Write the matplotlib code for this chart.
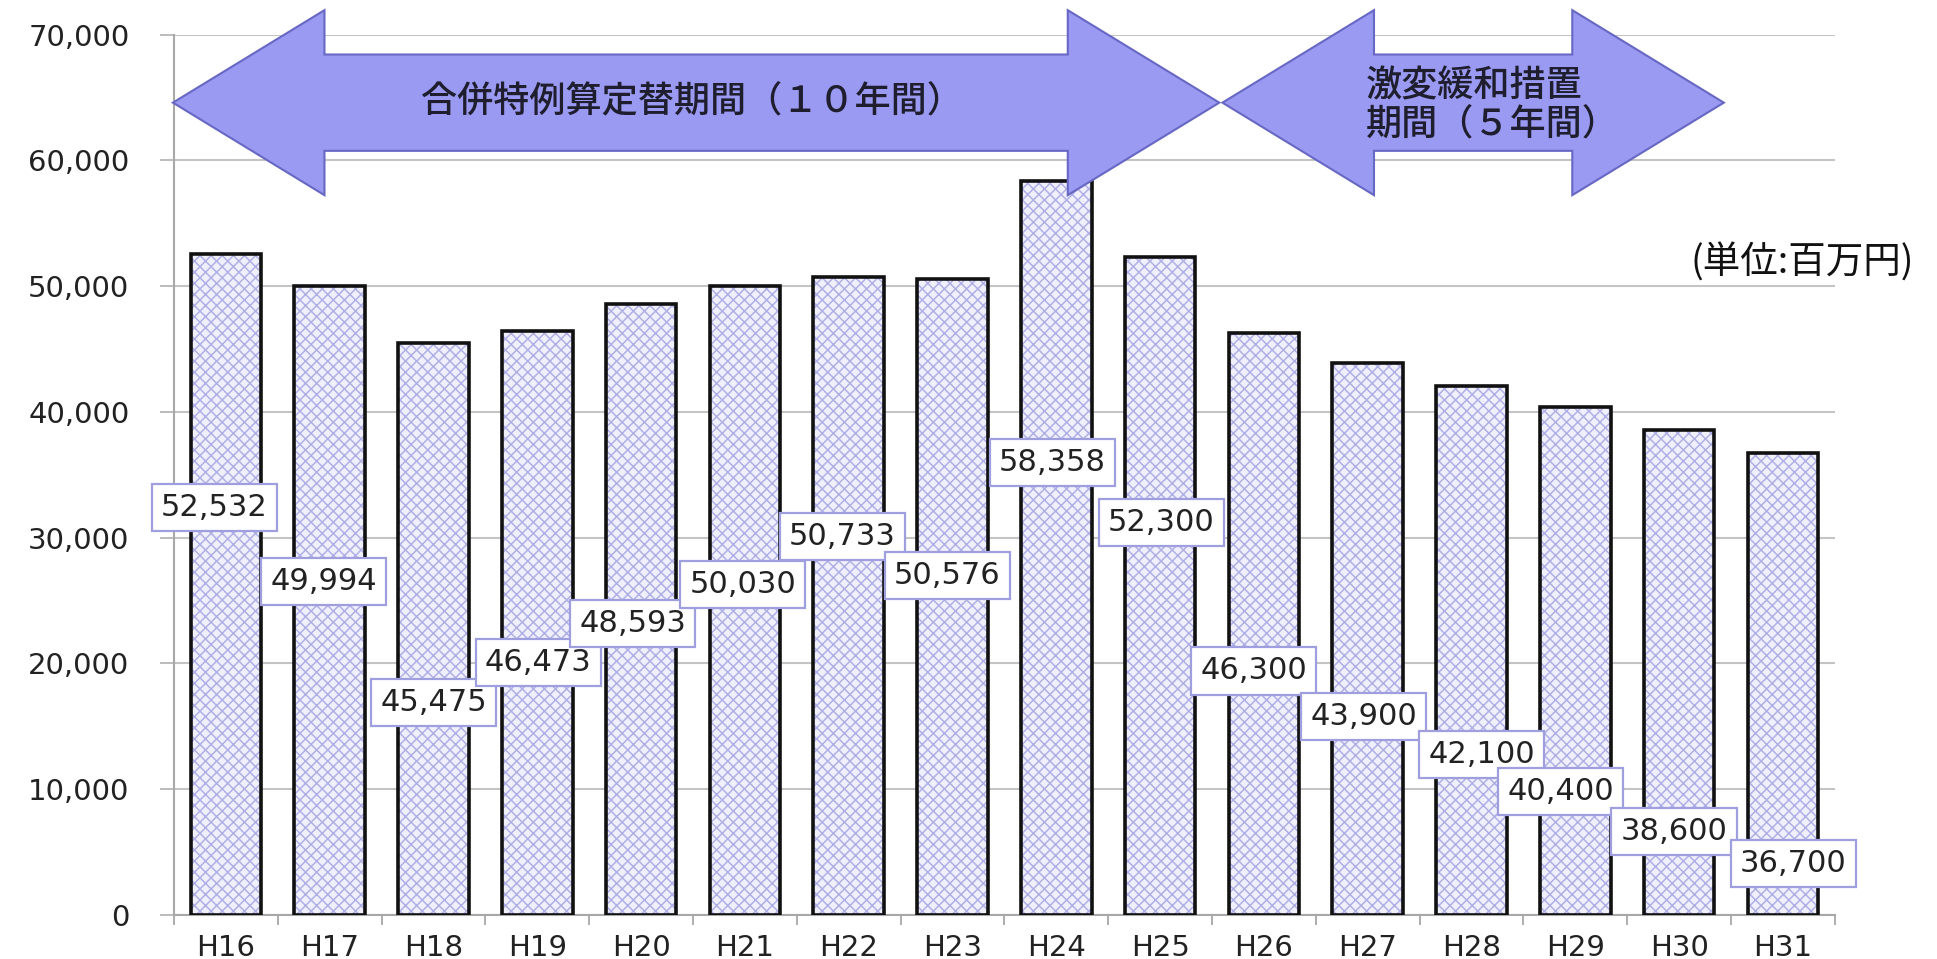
import matplotlib
matplotlib.use('Agg')
import matplotlib.pyplot as plt
from matplotlib.patches import Polygon
from matplotlib.ticker import FuncFormatter, FixedLocator

# Data
years = ['H16', 'H17', 'H18', 'H19', 'H20', 'H21', 'H22', 'H23',
         'H24', 'H25', 'H26', 'H27', 'H28', 'H29', 'H30', 'H31']
values = [52532, 49994, 45475, 46473, 48593, 50030, 50733, 50576,
          58358, 52300, 46300, 43900, 42100, 40400, 38600, 36700]

# where the value boxes sit (they are not at the bar tops in the original)
label_y = [32400, 26500, 16900, 20100, 23200, 26300, 30100, 27000,
           36000, 31200, 19400, 15800, 12750, 9800, 6650, 4100]
label_dx = [-0.11, -0.06, 0, 0.01, -0.08, -0.02, -0.06, -0.05,
            -0.04, 0.01, -0.1, -0.04, 0.1, -0.14, -0.05, 0.1]

period1 = '合併特例算定替期間（１０年間）'
period2 = '激変緩和措置\n期間（５年間）'
unit = '(単位:百万円)'

CJK = ['Noto Sans CJK JP', 'DejaVu Sans']


def double_arrow(x0, x1, yc, head_len=1.46, shaft=3830, head=7355):
    pts = [(x0, yc), (x0 + head_len, yc + head), (x0 + head_len, yc + shaft),
           (x1 - head_len, yc + shaft), (x1 - head_len, yc + head), (x1, yc),
           (x1 - head_len, yc - head), (x1 - head_len, yc - shaft),
           (x0 + head_len, yc - shaft), (x0 + head_len, yc - head)]
    return Polygon(pts, closed=True, facecolor='#9a9af2', edgecolor='#6767c4',
                   linewidth=1.5, zorder=5, clip_on=False)


fig = plt.figure(figsize=(19.37, 9.59), dpi=100)
ax = fig.add_axes([0.0898, 0.0459, 0.8575, 0.918])

x = list(range(len(years)))
plt.rcParams['hatch.linewidth'] = 1.1
ax.bar(x, values, width=0.68, color='#f0f0fd', edgecolor='#b0b0e6',
       hatch='xxx', linewidth=0, zorder=2)
ax.bar(x, values, width=0.68, fill=False, edgecolor='#111111',
       linewidth=2.6, zorder=3)

for i, v in enumerate(values):
    ax.text(i + label_dx[i], label_y[i], f'{v:,}', ha='center', va='center',
            fontsize=22, color='#222222', zorder=6,
            bbox=dict(boxstyle='square,pad=0.3', facecolor='white',
                      edgecolor='#9f9fe0', linewidth=1.6))

ax.set_xlim(-0.5, len(years) - 0.5)
ax.set_ylim(0, 70000)
ax.set_yticks(range(0, 70001, 10000))
ax.yaxis.set_major_formatter(FuncFormatter(lambda v, p: f'{v:,.0f}'))
ax.set_xticks(x)
ax.set_xticklabels(years)
ax.xaxis.set_minor_locator(FixedLocator([i - 0.5 for i in range(len(years) + 1)]))
ax.tick_params(axis='x', which='major', length=0, pad=14, labelsize=21,
               labelcolor='#222222')
ax.tick_params(axis='x', which='minor', length=7, width=1.2, color='#a0a0a0')
ax.tick_params(axis='y', length=10, width=1.2, color='#b0b0b0', pad=22,
               labelsize=21, labelcolor='#222222')

ax.grid(axis='y', color='#c4c4c4', linewidth=1.5, zorder=0)
ax.set_axisbelow(True)
for s in ['top', 'right']:
    ax.spines[s].set_visible(False)
ax.spines['left'].set_color('#a8a8a8')
ax.spines['bottom'].set_color('#a8a8a8')
ax.spines['left'].set_linewidth(1.5)
ax.spines['bottom'].set_linewidth(1.5)

# period arrows
ax.add_patch(double_arrow(-0.51, 9.57, 64590))
ax.add_patch(double_arrow(9.60, 14.43, 64590))
ax.text(4.49, 64590, period1, ha='center', va='center', fontsize=26,
        family=CJK, weight='medium', color='#1e1e2e', zorder=7)
ax.text(12.2, 64300, period2, ha='center', va='center', fontsize=26,
        family=CJK, weight='medium', color='#1e1e2e', zorder=7,
        linespacing=1.1, multialignment='left')

fig.text(0.988, 0.726, unit, ha='right', va='center', fontsize=27,
         family=CJK, color='#111111')

fig.savefig('out.png', dpi=100)
